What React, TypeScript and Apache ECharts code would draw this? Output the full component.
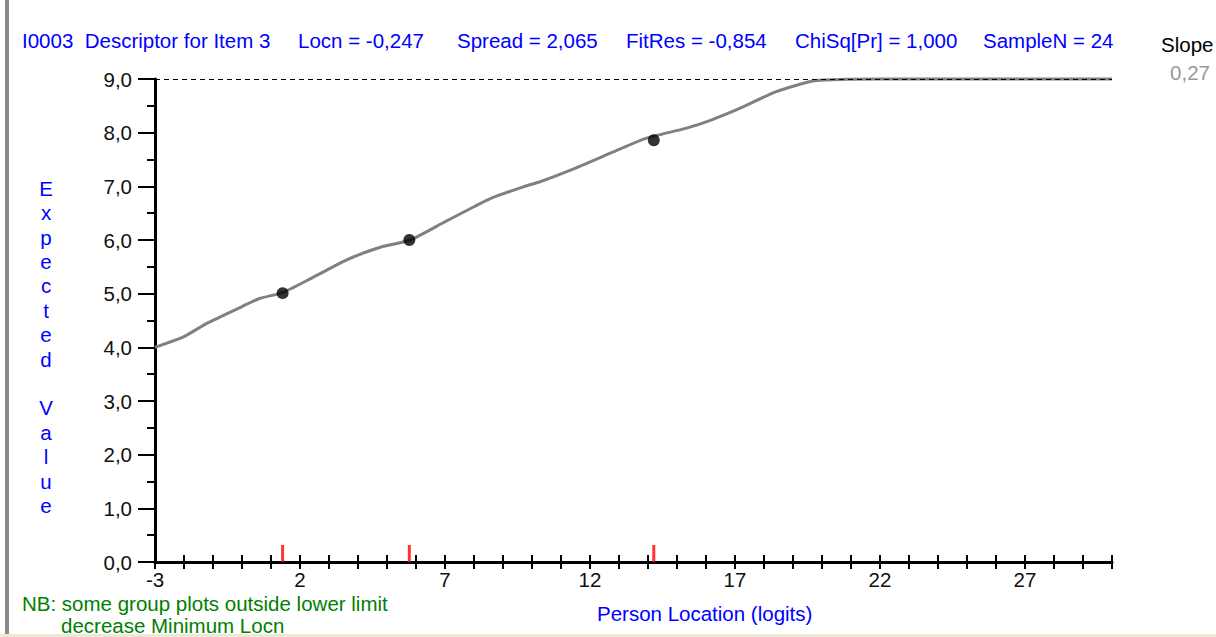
import React, { useEffect, useRef } from "react";
import * as echarts from "echarts";

// Expected-value curve (Person Location in logits -> Expected Value)
const curveX = [-3, -2, -1.2, 0, 0.6, 1.4, 2.4, 3.5, 4, 4.8, 5.8, 7, 8, 8.6, 9.7, 10.3, 11.5, 12.8, 13.9, 15.3, 16.2, 17.2, 18.4, 19.8, 22, 30];
const curveY = [4.0, 4.2, 4.45, 4.76, 4.91, 5.02, 5.29, 5.6, 5.72, 5.87, 6.0, 6.34, 6.62, 6.78, 6.99, 7.09, 7.34, 7.64, 7.89, 8.08, 8.24, 8.46, 8.76, 8.97, 9.0, 9.0];

// Observed class-interval means
const groupX = [1.4, 5.77, 14.2];
const groupY = [5.01, 6.0, 7.86];

// Axis tick labels
const xTickValues = [-3, 2, 7, 12, 17, 22, 27];
const xTickLabels = ["-3", "2", "7", "12", "17", "22", "27"];
const yTickLabels = ["0,0", "1,0", "2,0", "3,0", "4,0", "5,0", "6,0", "7,0", "8,0", "9,0"];
const xMin = -3;
const xMax = 30;
const yMin = 0;
const yMax = 9;
const upperLimit = 9;

// Texts
const headerTexts = [
  "I0003  Descriptor for Item 3",
  "Locn = -0,247",
  "Spread = 2,065",
  "FitRes = -0,854",
  "ChiSq[Pr] = 1,000",
  "SampleN = 24",
];
const slopeTitle = "Slope";
const slopeValue = "0,27";
const yAxisName = "Expected Value";
const xAxisName = "Person Location (logits)";
const noteLines = ["NB: some group plots outside lower limit", "decrease Minimum Locn"];

const FONT = "'Liberation Sans', Arial, sans-serif";
const FS = 20.5;
const BLUE = "#0000ff";
const GREEN = "#008000";

export default function App() {
  const ref = useRef<HTMLDivElement>(null);

  useEffect(() => {
    if (!ref.current) return;
    const chart = echarts.init(ref.current, undefined, { renderer: "svg" });

    const font = `${FS}px ${FONT}`;
    const headerX = [22, 298, 457, 626, 795, 983];
    const graphic: any[] = [];
    headerTexts.forEach((t, i) => {
      graphic.push({
        type: "text",
        x: headerX[i],
        y: 40,
        style: { text: t, fill: BLUE, font, textAlign: "left", textVerticalAlign: "middle" },
      });
    });
    graphic.push({
      type: "text",
      x: 1161,
      y: 44,
      style: { text: slopeTitle, fill: "#000", font, textAlign: "left", textVerticalAlign: "middle" },
    });
    graphic.push({
      type: "text",
      x: 1210,
      y: 72,
      style: { text: slopeValue, fill: "#9a9a9a", font, textAlign: "right", textVerticalAlign: "middle" },
    });
    graphic.push({
      type: "text",
      x: 46,
      y: 176,
      style: {
        text: yAxisName.split("").join("\n"),
        fill: BLUE,
        font,
        lineHeight: 24.4,
        textAlign: "center",
        textVerticalAlign: "top",
      },
    });
    graphic.push({
      type: "text",
      x: 597,
      y: 613,
      style: { text: xAxisName, fill: BLUE, font, textAlign: "left", textVerticalAlign: "middle" },
    });
    graphic.push({
      type: "text",
      x: 22,
      y: 603,
      style: { text: noteLines[0], fill: GREEN, font, textAlign: "left", textVerticalAlign: "middle" },
    });
    graphic.push({
      type: "text",
      x: 61,
      y: 625,
      style: { text: noteLines[1], fill: GREEN, font, textAlign: "left", textVerticalAlign: "middle" },
    });
    // window frame edges
    graphic.push({ type: "rect", shape: { x: 5, y: 0, width: 4, height: 634 }, style: { fill: "#8a8a8a" } });
    graphic.push({ type: "rect", shape: { x: 0, y: 634, width: 1216, height: 3 }, style: { fill: "#ece9d8" } });

    const tickStyle = { color: "#000", width: 2 };

    chart.setOption({
      animation: false,
      backgroundColor: "#ffffff",
      grid: { left: 155, top: 79, width: 957, height: 483, containLabel: false },
      xAxis: [
        {
          type: "value",
          min: xMin,
          max: xMax,
          interval: 1,
          position: "bottom",
          axisLine: { show: true, onZero: false, lineStyle: { color: "#000", width: 3 } },
          axisTick: { show: true, length: 7, lineStyle: tickStyle },
          axisLabel: {
            margin: 7,
            fontSize: FS,
            fontFamily: FONT,
            color: "#111",
            formatter: (v: number) => {
              const i = xTickValues.indexOf(Math.round(v));
              return i >= 0 ? xTickLabels[i] : "";
            },
          },
          splitLine: { show: false },
        },
        {
          type: "value",
          min: xMin,
          max: xMax,
          interval: 1,
          position: "bottom",
          axisLine: { show: false, onZero: false },
          axisTick: { show: true, inside: true, length: 7, lineStyle: tickStyle },
          axisLabel: { show: false },
          splitLine: { show: false },
        },
      ],
      yAxis: {
        type: "value",
        min: yMin,
        max: yMax,
        interval: 1,
        position: "left",
        axisLine: { show: true, onZero: false, lineStyle: { color: "#000", width: 3 } },
        axisTick: { show: true, length: 17, lineStyle: tickStyle },
        minorTick: { show: true, splitNumber: 2, length: 8, lineStyle: tickStyle },
        axisLabel: {
          margin: 23,
          fontSize: FS,
          fontFamily: FONT,
          color: "#111",
          formatter: (v: number) => yTickLabels[Math.round(v)] ?? "",
        },
        splitLine: { show: false },
        minorSplitLine: { show: false },
      },
      series: [
        {
          type: "line",
          data: curveX.map((x, i) => [x, curveY[i]]),
          symbol: "none",
          showSymbol: false,
          clip: false,
          smooth: 0.2,
          lineStyle: { color: "#808080", width: 3 },
          z: 2,
          silent: true,
        },
        {
          type: "scatter",
          data: groupX.map((x, i) => [x, groupY[i]]),
          symbol: "circle",
          symbolSize: 12,
          itemStyle: { color: "#000" },
          z: 4,
          silent: true,
          markLine: {
            silent: true,
            symbol: ["none", "none"],
            label: { show: false },
            lineStyle: { color: "#000", type: [5, 4], width: 1.2 },
            data: [{ yAxis: upperLimit }],
          },
        },
        {
          type: "scatter",
          data: groupX.map((x) => [x, yMin]),
          symbol: "rect",
          symbolSize: [3, 17],
          symbolOffset: [0, "-50%"],
          clip: false,
          itemStyle: { color: "#ff0000" },
          z: 5,
          silent: true,
        },
      ],
      graphic,
    });

    return () => chart.dispose();
  }, []);

  return (
    <div
      ref={ref}
      style={{ position: "fixed", left: 0, top: 0, width: 1216, height: 637, background: "#fff" }}
    />
  );
}
